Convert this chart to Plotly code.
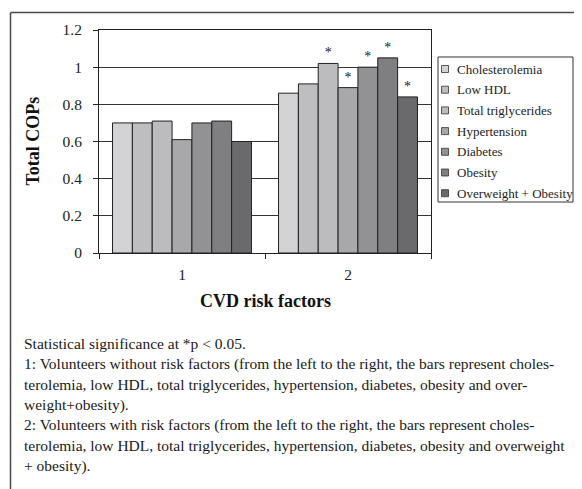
import plotly.graph_objects as go

# ---- data ----
groups = ["1", "2"]
series = ["Cholesterolemia", "Low HDL", "Total triglycerides", "Hypertension",
          "Diabetes", "Obesity", "Overweight + Obesity"]
without_rf = [0.70, 0.70, 0.71, 0.61, 0.70, 0.71, 0.60]
with_rf = [0.86, 0.91, 1.02, 0.89, 1.00, 1.05, 0.84]
sig_with = ["", "", "*", "*", "*", "*", "*"]
colors = ["#d3d3d5", "#bebec0", "#bcbcbe", "#a8a8aa", "#929294", "#7f7f81", "#6a6a6c"]
y_ticks = [0, 0.2, 0.4, 0.6, 0.8, 1.0, 1.2]
footnote = [
    "Statistical significance at *p < 0.05.",
    "1: Volunteers without risk factors (from the left to the right, the bars represent choles-",
    "terolemia, low HDL, total triglycerides, hypertension, diabetes, obesity and over-",
    "weight+obesity).",
    "2: Volunteers with risk factors (from the left to the right, the bars represent choles-",
    "terolemia, low HDL, total triglycerides, hypertension, diabetes, obesity and overweight",
    "+ obesity).",
]

FONT = "Liberation Serif, Times New Roman, serif"
OFF = 8  # default page body margin
W, H = 582 - OFF, 489 - OFF
# plot area in screen pixels
SL, SR, ST, SB = 99, 431, 30, 253
L, R, T, B = SL - OFF, SR - OFF, ST - OFF, SB - OFF
PW, PH = R - L, B - T


def px2x(px):  # screen px -> paper x
    return (px - OFF - L) / PW


def py2y(py):  # screen px -> paper y
    return 1 - (py - OFF - T) / PH


fig = go.Figure()
for i, name in enumerate(series):
    fig.add_trace(go.Bar(
        x=groups,
        y=[without_rf[i], with_rf[i]],
        name=name,
        marker=dict(color=colors[i], line=dict(color="#222222", width=1)),
        text=["", sig_with[i]],
        textposition="outside",
        textfont=dict(family=FONT, size=14, color="#222222"),
        cliponaxis=False,
        showlegend=False,
        hoverinfo="x+y+name",
    ))

shapes = []
annotations = []

# outer frame (top and left edges)
shapes.append(dict(type="line", xref="paper", yref="paper",
                   x0=px2x(10.5), y0=py2y(12.5), x1=px2x(600), y1=py2y(12.5),
                   line=dict(color="#4a4a4a", width=1.5)))
shapes.append(dict(type="line", xref="paper", yref="paper",
                   x0=px2x(10.5), y0=py2y(12.5), x1=px2x(10.5), y1=py2y(500),
                   line=dict(color="#4a4a4a", width=1.5)))

# custom legend
lg_l, lg_t, lg_r, lg_b = 438, 57, 573, 202
shapes.append(dict(type="rect", xref="paper", yref="paper",
                   x0=px2x(lg_l), y0=py2y(lg_t), x1=px2x(lg_r), y1=py2y(lg_b),
                   line=dict(color="#333333", width=1), fillcolor="white", layer="above"))
step = 20.7
for i, name in enumerate(series):
    cy = 69 + i * step
    shapes.append(dict(type="rect", xref="paper", yref="paper",
                       x0=px2x(441.5), y0=py2y(cy - 3.5), x1=px2x(448.5), y1=py2y(cy + 3.5),
                       line=dict(color="#333333", width=0.8), fillcolor=colors[i], layer="above"))
    annotations.append(dict(xref="paper", yref="paper", x=px2x(455), y=py2y(cy),
                            xanchor="left", yanchor="middle", showarrow=False, text=name,
                            font=dict(family=FONT, size=13, color="#222222")))

# axis titles
annotations.append(dict(xref="paper", yref="paper", x=0.5, y=py2y(301),
                        xanchor="center", yanchor="middle", showarrow=False,
                        text="<b>CVD risk factors</b>",
                        font=dict(family=FONT, size=18, color="#111111")))
annotations.append(dict(xref="paper", yref="paper", x=px2x(32), y=0.5,
                        xanchor="center", yanchor="middle", showarrow=False,
                        text="<b>Total COPs</b>", textangle=-90,
                        font=dict(family=FONT, size=18, color="#111111")))

# footnote
for k, line in enumerate(footnote):
    annotations.append(dict(xref="paper", yref="paper", x=px2x(22), y=py2y(343 + k * 20.5),
                            xanchor="left", yanchor="middle", showarrow=False, text=line,
                            font=dict(family=FONT, size=15.5, color="#1a1a1a")))

fig.update_layout(
    width=W, height=H,
    margin=dict(l=L, r=W - R, t=T, b=H - B, pad=0),
    paper_bgcolor="white", plot_bgcolor="white",
    barmode="group", bargap=0.163, bargroupgap=0,
    font=dict(family=FONT, color="#222222"),
    shapes=shapes, annotations=annotations,
)
fig.update_xaxes(
    type="category", showline=True, linecolor="#222222", linewidth=1, mirror=True,
    ticks="outside", tickson="boundaries", ticklen=5, tickcolor="#222222",
    showgrid=False, tickfont=dict(family=FONT, size=15.5, color="#222222"),
    ticklabelstandoff=7,
)
fig.update_yaxes(
    range=[0, 1.2], tickvals=y_ticks, showline=True, linecolor="#222222", linewidth=1,
    mirror=True, ticks="outside", ticklen=5, tickcolor="#222222",
    showgrid=True, gridcolor="#333333", gridwidth=1, zeroline=False,
    tickfont=dict(family=FONT, size=15.5, color="#222222"), ticklabelstandoff=8,
)

fig.write_html("out.html")
